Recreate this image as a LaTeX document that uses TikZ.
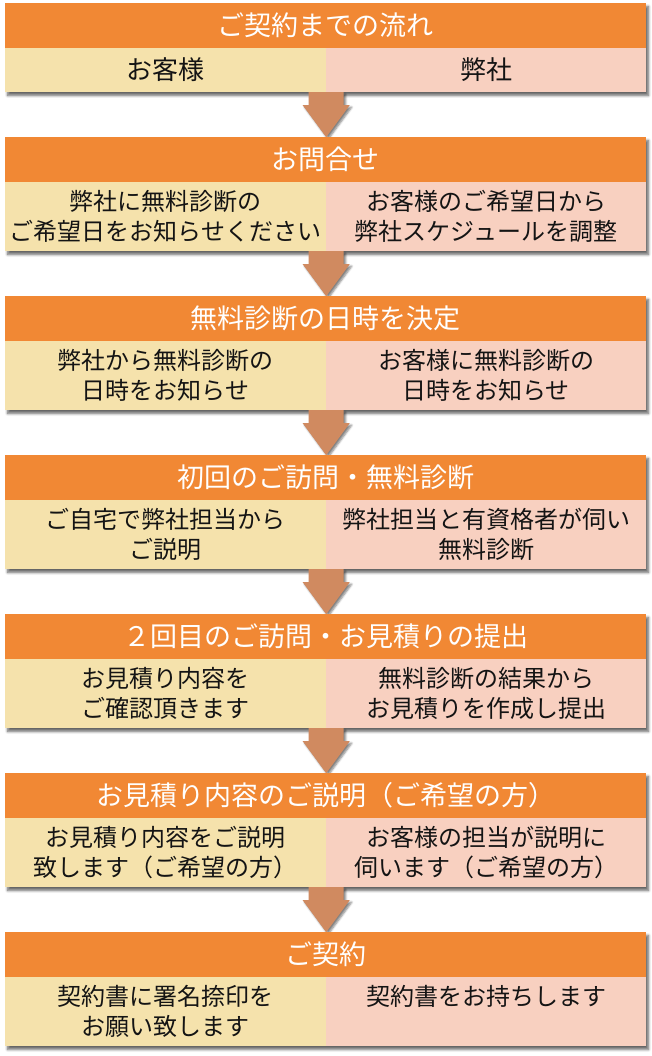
\documentclass[tikz,border=0pt]{standalone}
\usepackage{fontspec}
\newfontfamily\jp{Noto Sans CJK JP}
\usetikzlibrary{shadows.blur,calc}
\definecolor{hdrc}{HTML}{F18834}
\definecolor{leftc}{HTML}{F5E2AC}
\definecolor{rightc}{HTML}{F8D0C0}
\definecolor{arrc}{HTML}{D08A60}
\definecolor{txtc}{HTML}{141414}
\tikzset{
  blockshadow/.style={blur shadow={shadow xshift=2.5pt, shadow yshift=-3.5pt, shadow blur radius=2.5pt, shadow blur steps=6, shadow opacity=60}},
  hdrbox/.style={fill=hdrc, draw=none, minimum width=641pt, minimum height=45pt, inner sep=0pt, text=white, font=\jp\fontsize{27}{30}\selectfont},
  leftbox/.style={fill=leftc, draw=none, minimum width=321pt, inner sep=0pt},
  rightbox/.style={fill=rightc, draw=none, minimum width=320pt, inner sep=0pt},
  bodytext/.style={inner sep=0pt, align=center, text=txtc, font=\jp\fontsize{24}{30}\selectfont},
  subtext/.style={inner sep=0pt, text=txtc, font=\jp\fontsize{26}{30}\selectfont},
  arrowbody/.style={fill=arrc, blur shadow={shadow xshift=2pt, shadow yshift=-2pt, shadow blur radius=2pt, shadow blur steps=5, shadow opacity=50}}
}
\newcommand\flowblock[6]{%
  \fill[white, blockshadow] (5,#2) rectangle (646,#2+114);
  \node[hdrbox] (h#1) at (325.5,#2+22.5) {#4};
  \node[leftbox, minimum height=69pt] (l#1) at (165.5,#2+79.5) {};
  \node[rightbox, minimum height=69pt] (r#1) at (486,#2+79.5) {};
  \node[bodytext, anchor=north] (lt#1) at ($(l#1.north)+(0,8)$) {#5};
  \node[bodytext, anchor=north] (rt#1) at ($(r#1.north)+(0,8)$) {#6};
}
\newcommand\flowarrow[1]{%
  \fill[arrowbody] ($(l#1.south east)+(-17.5,0)$) -- ++(35,0) -- ++(0,13) -- ++(6,0)
    -- ($(l#1.south east)+(0,45)$) -- ($(l#1.south east)+(-23.5,13)$) -- ++(6,0) -- cycle;
}
\begin{document}
\begin{tikzpicture}[x=1pt,y=-1pt]
\useasboundingbox (0,0) rectangle (652,1056);
% block 1
\fill[white, blockshadow] (5,3) rectangle (646,92);
\node[hdrbox] (h1) at (325.5,25.5) {ご契約までの流れ};
\node[leftbox, minimum height=44pt] (l1) at (165.5,70) {};
\node[rightbox, minimum height=44pt] (r1) at (486,70) {};
\node[subtext] (lt1) at (l1.center) {お客様};
\node[subtext] (rt1) at (r1.center) {弊社};
\flowarrow{1}
\flowblock{2}{137}{69}{お問合せ}{弊社に無料診断の\\ご希望日をお知らせください}{お客様のご希望日から\\弊社スケジュールを調整}
\flowarrow{2}
\flowblock{3}{296}{69}{無料診断の日時を決定}{弊社から無料診断の\\日時をお知らせ}{お客様に無料診断の\\日時をお知らせ}
\flowarrow{3}
\flowblock{4}{455}{69}{初回のご訪問・無料診断}{ご自宅で弊社担当から\\ご説明}{弊社担当と有資格者が伺い\\無料診断}
\flowarrow{4}
\flowblock{5}{614}{69}{２回目のご訪問・お見積りの提出}{お見積り内容を\\ご確認頂きます}{無料診断の結果から\\お見積りを作成し提出}
\flowarrow{5}
\flowblock{6}{773}{69}{お見積り内容のご説明（ご希望の方）}{お見積り内容をご説明\\致します（ご希望の方）}{お客様の担当が説明に\\伺います（ご希望の方）}
\flowarrow{6}
\flowblock{7}{932}{69}{ご契約}{契約書に署名捺印を\\お願い致します}{契約書をお持ちします}
\end{tikzpicture}
\end{document}
